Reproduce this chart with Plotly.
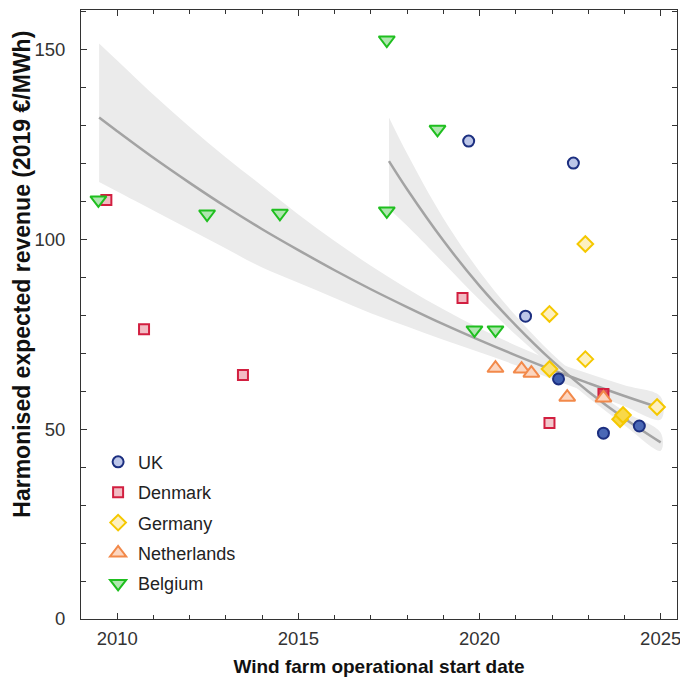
import plotly.graph_objects as go

# ---------------- data ----------------
uk_x = [2019.70, 2022.59, 2021.27, 2022.18, 2023.42, 2024.41]
uk_y = [125.8, 120.0, 79.7, 63.2, 48.9, 50.8]
uk_fill = ["#bcc6e8", "#bcc6e8", "#bcc6e8", "#3f5fb0", "#4a68b6", "#4a68b6"]

dk_x = [2009.70, 2010.74, 2013.47, 2019.53, 2021.93, 2023.42]
dk_y = [110.3, 76.3, 64.2, 84.5, 51.6, 59.2]
dk_fill = ["#f2bcc4", "#f2bcc4", "#f2bcc4", "#f2bcc4", "#f2c8cc", "#d94a5c"]

de_x = [2022.92, 2021.93, 2022.92, 2021.93, 2023.88, 2023.96, 2024.90]
de_y = [98.7, 80.3, 68.4, 65.8, 52.6, 53.7, 55.8]
de_fill = ["#fdf0c0", "#fdf0c0", "#fdf0c0", "#fbe27a", "#f8d848", "#f8d848", "#fdf0c0"]

nl_x = [2020.44, 2021.16, 2021.43, 2022.42, 2023.42]
nl_y = [66.0, 65.8, 64.7, 58.4, 58.2]

be_x = [2009.48, 2012.48, 2014.49, 2017.44, 2017.44, 2018.84, 2019.86, 2020.44]
be_y = [110.3, 106.6, 106.8, 152.4, 107.4, 128.9, 76.1, 76.1]

# long-run fitted trend with its confidence band
fit1_x = [2009.5, 2010, 2011, 2012, 2013, 2014, 2015, 2016, 2017, 2018,
          2019, 2020, 2021, 2022, 2023, 2024, 2025]
fit1_y = [132.0, 128.4, 121.4, 114.8, 108.5, 102.6, 97.1, 91.8, 86.8, 82.1,
          77.6, 73.4, 69.4, 65.6, 62.1, 58.7, 55.5]
fit1_hi = [151.5, 147.0, 138.0, 129.5, 121.5, 114.0, 106.5, 99.5, 93.0, 87.0,
           81.5, 76.5, 72.0, 68.0, 64.6, 61.5, 58.5]
fit1_lo = [115.0, 112.5, 107.5, 102.5, 97.5, 92.5, 88.5, 84.5, 80.5, 77.0,
           73.5, 70.2, 66.8, 63.2, 59.6, 56.0, 52.5]

# recent fitted trend with its confidence band
fit2_x = [2017.5, 2018, 2019, 2020, 2021, 2022, 2023, 2024, 2025]
fit2_y = [120.5, 113.1, 99.6, 87.7, 77.3, 68.0, 59.9, 52.8, 46.5]
fit2_hi = [132.0, 122.5, 105.5, 91.5, 79.8, 69.8, 61.6, 54.6, 49.0]
fit2_lo = [108.0, 103.5, 93.8, 84.0, 74.8, 66.3, 58.3, 51.0, 44.3]

x_title = "Wind farm operational start date"
y_title = "Harmonised expected revenue (2019 €/MWh)"

# ---------------- figure ----------------
fig = go.Figure()

band_color = "#ebebeb"
line_color = "#a3a3a3"

for fx, fhi, flo in [(fit1_x, fit1_hi, fit1_lo), (fit2_x, fit2_hi, fit2_lo)]:
    fig.add_trace(go.Scatter(
        x=fx + fx[::-1], y=fhi + flo[::-1], fill="toself", fillcolor=band_color,
        line=dict(width=0, shape="spline"), mode="lines", hoverinfo="skip",
        showlegend=False))
for fx, fy in [(fit1_x, fit1_y), (fit2_x, fit2_y)]:
    fig.add_trace(go.Scatter(
        x=fx, y=fy, mode="lines", line=dict(color=line_color, width=2.5, shape="spline"),
        showlegend=False, hoverinfo="skip"))

series = [
    ("UK", uk_x, uk_y, "circle", 11, uk_fill, "#1c2f80"),
    ("Denmark", dk_x, dk_y, "square", 10, dk_fill, "#d21f40"),
    ("Germany", de_x, de_y, "diamond", 12, de_fill, "#f5c800"),
    ("Netherlands", nl_x, nl_y, "triangle-up", 14, "#fcd6c0", "#f2894a"),
    ("Belgium", be_x, be_y, "triangle-down", 14, "#b0e6b0", "#1fbf1f"),
]
for name, xs, ys, sym, size, fillc, linec in series:
    fig.add_trace(go.Scatter(
        x=xs, y=ys, mode="markers", name=name, legendgroup=name,
        marker=dict(symbol=sym, size=size, color=fillc,
                    line=dict(color=linec, width=2))))

FONT = "Liberation Sans, Arial, sans-serif"
axis_common = dict(
    showline=True, linecolor="#333333", linewidth=1, mirror="ticks",
    ticks="inside", ticklen=6, tickcolor="#333333", tickwidth=1,
    showgrid=False, zeroline=False, automargin=False,
    ticklabeloverflow="allow",
    tickfont=dict(family=FONT, size=18.5, color="#333333"),
)

fig.update_layout(
    width=680, height=679,
    margin=dict(l=81, r=3, t=10, b=60),
    paper_bgcolor="white", plot_bgcolor="white",
    font=dict(family=FONT, color="#111111"),
    xaxis=dict(
        range=[2009.0, 2025.45], tick0=2010, dtick=5,
        minor=dict(dtick=1, ticklen=4, ticks="inside", tickcolor="#333333"),
        ticklabelstandoff=3,
        title=dict(text="<b>" + x_title + "</b>",
                   font=dict(size=19, color="#111111"), standoff=11),
        **axis_common),
    yaxis=dict(
        range=[0, 160.3], tick0=0, dtick=50,
        minor=dict(dtick=10, ticklen=5, ticks="inside", tickcolor="#333333"),
        ticklabelstandoff=11,
        **axis_common),
    legend=dict(
        x=0.0287, y=0.288, xanchor="left", yanchor="top",
        bgcolor="rgba(0,0,0,0)", borderwidth=0,
        font=dict(size=18, color="#222222", family=FONT),
        traceorder="grouped", tracegroupgap=4, itemsizing="trace"),
    annotations=[dict(
        text="<b>" + y_title + "</b>", textangle=-90,
        xref="paper", yref="paper", x=-0.099, y=0.567,
        xanchor="center", yanchor="middle", showarrow=False,
        font=dict(size=23, color="#111111", family=FONT))],
)

fig.write_html(
    "out.html",
    config={"displayModeBar": False},
    post_script="document.body.style.margin='0px';"
                "document.body.style.overflow='hidden';"
                "document.documentElement.style.overflow='hidden';")
